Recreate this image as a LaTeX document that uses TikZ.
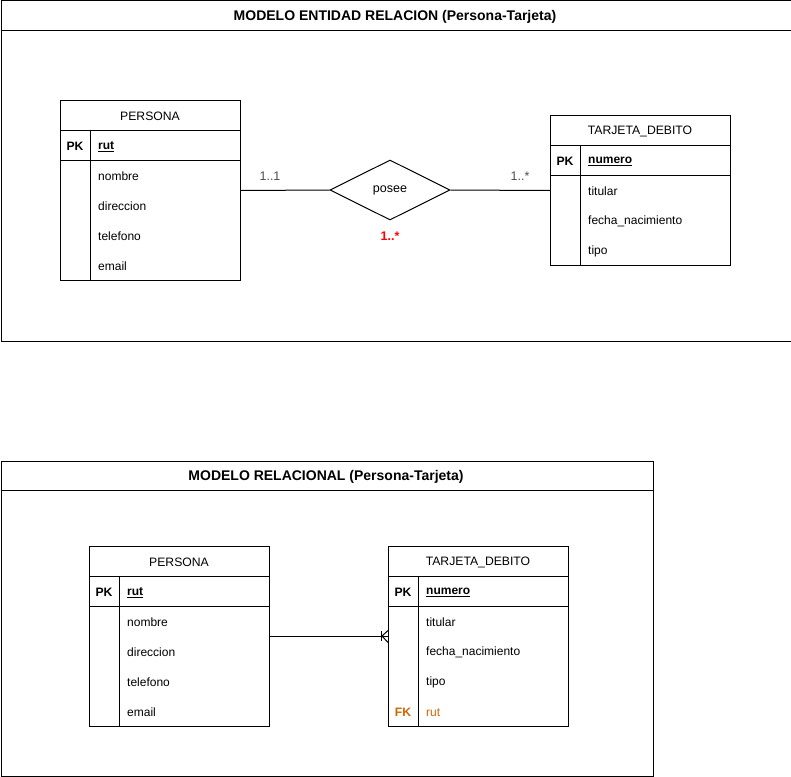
\documentclass[tikz,border=0pt]{standalone}
\usepackage{fontspec}
\setmainfont{Liberation Sans}
\usetikzlibrary{shapes.geometric}
\definecolor{fkorange}{HTML}{CC6600}
\definecolor{lblgray}{HTML}{4D4D4D}
\definecolor{ered}{HTML}{FF0000}
\tikzset{
  frame/.style={draw, line width=1pt, minimum width=#1, anchor=north west, inner sep=0pt},
  tbl/.style={draw, line width=1pt, anchor=north west, inner sep=0pt, minimum width=180pt},
  ttl/.style={font=\fontsize{14}{16}\selectfont\bfseries, anchor=center, yshift=-1pt},
  hdr/.style={font=\fontsize{12.2}{14}\selectfont, anchor=center, yshift=-1.5pt},
  keycol/.style={font=\fontsize{12.2}{14}\selectfont\bfseries, anchor=center, yshift=-1.5pt},
  fld/.style={font=\fontsize{12}{14}\selectfont, anchor=west, inner sep=0pt, yshift=-1.5pt},
  keyfld/.style={font=\fontsize{12}{14}\selectfont\bfseries, anchor=west, inner sep=0pt, yshift=-1.5pt},
  rel/.style={draw, diamond, aspect=2, line width=1pt, minimum width=120pt, minimum height=60pt, inner sep=0pt, font=\fontsize{12.5}{14}\selectfont},
  card/.style={font=\fontsize{12.5}{14}\selectfont, text=lblgray, yshift=-1.5pt},
  conn/.style={line width=1pt},
}
\newcommand{\ul}[1]{\underline{#1}}
\begin{document}
\begin{tikzpicture}[x=1pt,y=-1pt]
\useasboundingbox (0,0) rectangle (791,776);
% ---------- Frame 1 ----------
\node[frame=790pt, minimum height=340pt] (f1) at (0.5,0.5) {};
\draw[line width=1pt] (0.5,31) -- (790.5,31);
\node[ttl] (t1) at (395,16) {MODELO ENTIDAD RELACION (Persona-Tarjeta)};

% PERSONA (ER)
\node[tbl, minimum height=180pt] (p1) at (60,100) {};
\draw[line width=1pt] (60,130) -- (240,130) (60,160) -- (240,160) (90,130) -- (90,280);
\node[hdr] (p1h) at (150,115) {PERSONA};
\node[keycol] (p1k) at (75,145) {PK};
\node[keyfld] (p1pk) at (98,145) {\ul{rut}};
\node[fld] (p1a) at (98,175) {nombre};
\node[fld] (p1b) at (98,205) {direccion};
\node[fld] (p1c) at (98,235) {telefono};
\node[fld] (p1d) at (98,265) {email};

% TARJETA_DEBITO (ER)
\node[tbl, minimum height=150pt] (tj1) at (550,115) {};
\draw[line width=1pt] (550,145) -- (730,145) (550,175) -- (730,175) (580,145) -- (580,265);
\node[hdr] (tj1h) at (640,130) {TARJETA\_DEBITO};
\node[keycol] (tj1k) at (565,160) {PK};
\node[keyfld] (tj1pk) at (588,160) {\ul{numero}};
\node[fld] (tj1a) at (588,190) {titular};
\node[fld] (tj1b) at (588,220) {fecha\_nacimiento};
\node[fld] (tj1c) at (588,250) {tipo};

% relationship
\node[rel] (posee) at (390,190) {\raisebox{-1.5pt}{posee}};
\draw[conn] (p1.east) -- (posee.west);
\draw[conn] (posee.east) -- (tj1.west);
\node[card] (c1) at (270,175) {1..1};
\node[card] (c2) at (520,175) {1..*};
\node[font=\fontsize{12.5}{14}\selectfont\bfseries, text=ered, yshift=-1.5pt] (c3) at (390,235) {1..*};

% ---------- Frame 2 ----------
\node[frame=652pt, minimum height=315pt] (f2) at (0.5,460.5) {};
\draw[line width=1pt] (0.5,490) -- (652.5,490);
\node[ttl] (t2) at (326,476) {MODELO RELACIONAL (Persona-Tarjeta)};

% PERSONA (relational)
\node[tbl, minimum height=180pt] (p2) at (89,546) {};
\draw[line width=1pt] (89,576) -- (269,576) (89,606) -- (269,606) (119,576) -- (119,726);
\node[hdr] (p2h) at (179,561) {PERSONA};
\node[keycol] (p2k) at (104,591) {PK};
\node[keyfld] (p2pk) at (127,591) {\ul{rut}};
\node[fld] (p2a) at (127,621) {nombre};
\node[fld] (p2b) at (127,651) {direccion};
\node[fld] (p2c) at (127,681) {telefono};
\node[fld] (p2d) at (127,711) {email};

% TARJETA_DEBITO (relational)
\node[tbl, minimum height=180pt] (tj2) at (388,546) {};
\draw[line width=1pt] (388,576) -- (568,576) (388,606) -- (568,606) (418,576) -- (418,726);
\node[hdr] (tj2h) at (478,561) {TARJETA\_DEBITO};
\node[keycol] (tj2k) at (403,591) {PK};
\node[keyfld] (tj2pk) at (426,591) {\ul{numero}};
\node[fld] (tj2a) at (426,621) {titular};
\node[fld] (tj2b) at (426,651) {fecha\_nacimiento};
\node[fld] (tj2c) at (426,681) {tipo};
\node[keycol, text=fkorange] (tj2fk) at (403,711) {FK};
\node[fld, text=fkorange] (tj2e) at (426,711) {rut};

% one-to-many connector
\draw[conn] (p2.east) -- (tj2.west);
\coordinate (cf) at (382,636);
\draw[conn] (381,631) -- (381,641);
\draw[conn] (cf) -- ([yshift=-6pt]tj2.west);
\draw[conn] (cf) -- ([yshift=6pt]tj2.west);
\end{tikzpicture}
\end{document}
